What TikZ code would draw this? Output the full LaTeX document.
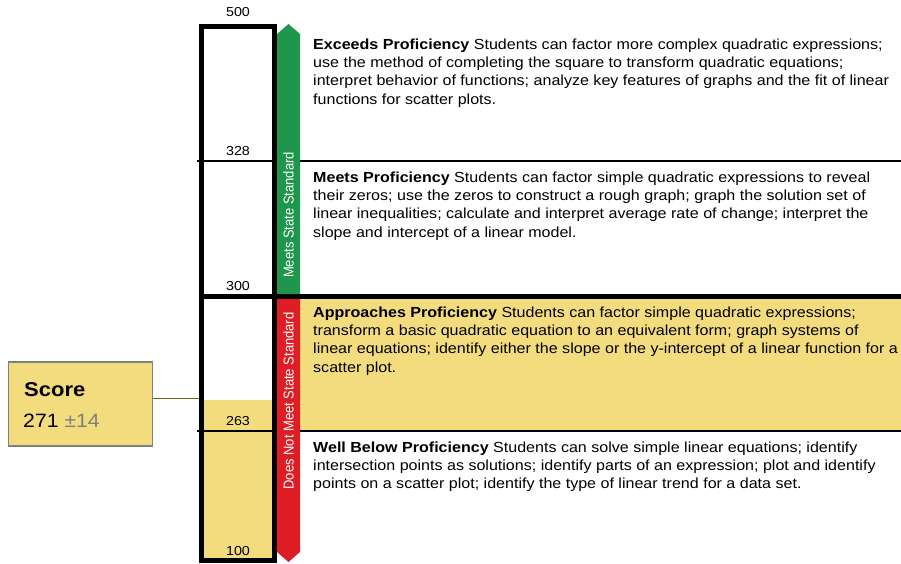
\documentclass[tikz,border=0pt]{standalone}
\usepackage{graphicx}
\usepackage{fontspec}
\setmainfont{Liberation Sans}
\definecolor{lvyellow}{RGB}{243,220,125}
\definecolor{lvgreen}{RGB}{30,150,75}
\definecolor{lvred}{RGB}{222,30,36}
\definecolor{lvolive}{RGB}{110,95,30}
\definecolor{lvgrey}{RGB}{128,128,128}
\newcommand{\hstretch}[1]{\scalebox{1.1}[1]{#1}}
\newcommand{\desclines}[1]{\hstretch{\fontsize{14.6}{18.4}\selectfont\begin{tabular}[t]{@{}l@{}}#1\end{tabular}}}
\tikzset{
  desc/.style={anchor=base west, inner sep=0pt},
  scalelbl/.style={inner sep=0pt, font=\fontsize{13}{13}\selectfont},
  bandtxt/.style={inner sep=0pt, rotate=90, text=white, font=\fontsize{13}{13}\selectfont},
  thinline/.style={line width=1.6pt},
  thickline/.style={line width=5pt}
}
\begin{document}
\begin{tikzpicture}[x=1pt,y=-1pt]
\useasboundingbox (0,0) rectangle (901,563);
% fills
\fill[lvyellow] (300,296.5) rectangle (901,431);
\fill[lvyellow] (201.5,400) rectangle (274.5,560.5);
% level lines
\coordinate (l328a) at (197,161); \coordinate (l328b) at (901,161);
\coordinate (l300a) at (199,296.5); \coordinate (l300b) at (901,296.5);
\coordinate (l263a) at (197,431); \coordinate (l263b) at (901,431);
\draw[thinline] (l328a) -- (l328b);
\draw[thinline] (l263a) -- (l263b);
\draw[thickline] (l300a) -- (l300b);
% scale box
\draw[thickline] (201.5,26.5) rectangle (274.5,560.5);
% arrows
\fill[lvgreen] (277,34) -- (288.5,24) -- (300,34) -- (300,294) -- (277,294) -- cycle;
\fill[lvred] (277,299) -- (300,299) -- (300,552) -- (288.5,562) -- (277,552) -- cycle;
\node[bandtxt] (meets) at (288.5,215) {\scalebox{1}[1.1]{Meets State Standard}};
\node[bandtxt] (notmeet) at (288.5,401) {\scalebox{1}[1.1]{Does Not Meet State Standard}};
% scale labels
\node[scalelbl] (s500) at (238,12.5) {\hstretch{500}};
\node[scalelbl] (s328) at (238,151.5) {\hstretch{328}};
\node[scalelbl] (s300) at (238,286.5) {\hstretch{300}};
\node[scalelbl] (s263) at (238,421.5) {\hstretch{263}};
\node[scalelbl] (s100) at (238,551.5) {\hstretch{100}};
% score box
\node[draw=lvgrey, line width=1.5pt, fill=lvyellow, minimum width=144pt, minimum height=84pt, inner sep=0pt] (score) at (80.5,404) {};
\node[anchor=base west, inner sep=0pt, font=\fontsize{20}{20}\selectfont\bfseries] (scoret) at (24,396) {\hstretch{Score}};
\node[anchor=base west, inner sep=0pt, font=\fontsize{19.3}{19.3}\selectfont] (scorev) at (23,427) {\hstretch{271 \textcolor{lvgrey}{±14}}};
\coordinate (boxleft) at (199,398.5);
\draw[lvolive, line width=1.3pt] (score.east |- boxleft) -- (boxleft);
% descriptions
\node[desc] (exceeds) at (313,49) {\desclines{\textbf{Exceeds Proficiency} Students can factor more complex quadratic expressions;\\ use the method of completing the square to transform quadratic equations;\\ interpret behavior of functions; analyze key features of graphs and the fit of linear\\ functions for scatter plots.}};
\node[desc] (meetsp) at (313,182) {\desclines{\textbf{Meets Proficiency} Students can factor simple quadratic expressions to reveal\\ their zeros; use the zeros to construct a rough graph; graph the solution set of\\ linear inequalities; calculate and interpret average rate of change; interpret the\\ slope and intercept of a linear model.}};
\node[desc] (approach) at (313,317) {\desclines{\textbf{Approaches Proficiency} Students can factor simple quadratic expressions;\\ transform a basic quadratic equation to an equivalent form; graph systems of\\ linear equations; identify either the slope or the y-intercept of a linear function for a\\ scatter plot.}};
\node[desc] (wellbelow) at (313,452) {\desclines{\textbf{Well Below Proficiency} Students can solve simple linear equations; identify\\ intersection points as solutions; identify parts of an expression; plot and identify\\ points on a scatter plot; identify the type of linear trend for a data set.}};
\end{tikzpicture}
\end{document}
